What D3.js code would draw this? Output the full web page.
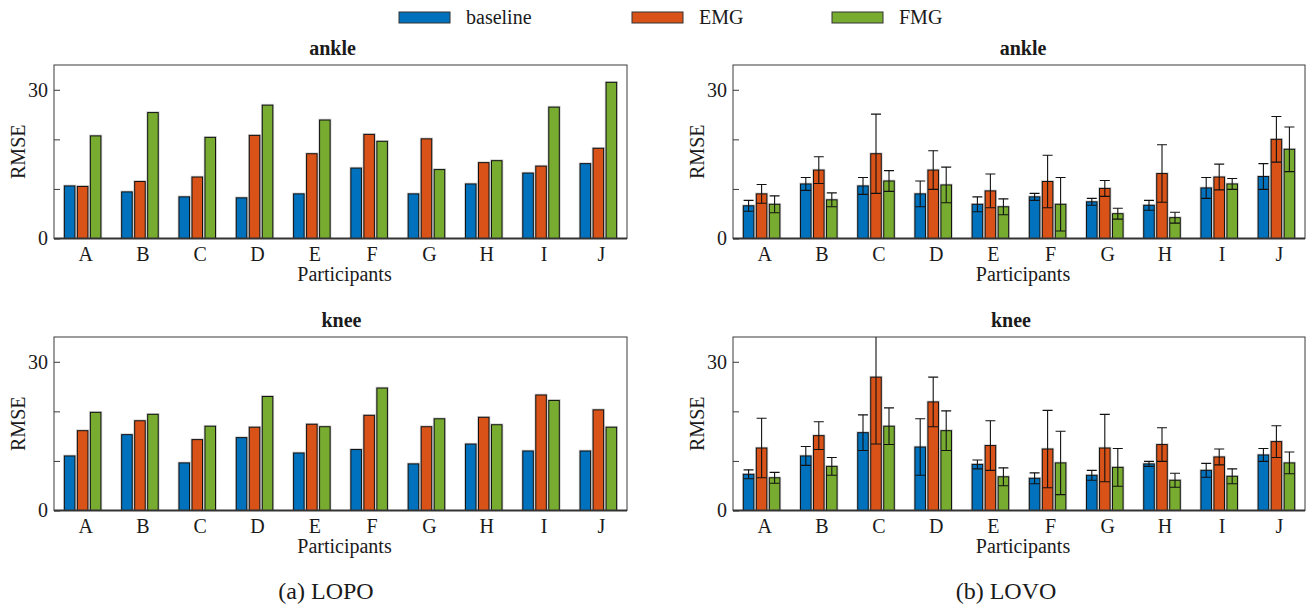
<!DOCTYPE html>
<html>

<head>
  <script src="https://d3js.org/d3.v7.min.js"></script>
  <style>
    body { margin: 0; background: #fff; }
    svg text { font-family: "Liberation Serif", Tinos, "Times New Roman", "DejaVu Serif", serif; fill: #1a1a1a; }
  </style>
</head>

<body>
  <svg id="chart" width="1310" height="612"></svg>
  <script>
    // data
    const participants = ["A", "B", "C", "D", "E", "F", "G", "H", "I", "J"];
    const seriesNames = ["baseline", "EMG", "FMG"];
    const seriesColors = ["#0072BD", "#D95319", "#77AC30"];
    const yTicks = [0, 10, 20, 30];
    const yTickLabels = ["0", "", "", "30"];

    // LOPO (no error bars): [baseline, EMG, FMG]
    const lopoAnkle = [
      [10.6, 9.4, 8.4, 8.2, 9.0, 14.2, 9.0, 11.0, 13.2, 15.1],
      [10.5, 11.5, 12.4, 20.8, 17.1, 21.0, 20.1, 15.3, 14.6, 18.2],
      [20.7, 25.4, 20.4, 26.9, 23.9, 19.6, 13.9, 15.7, 26.5, 31.5]
    ];
    const lopoKnee = [
      [11.0, 15.3, 9.6, 14.7, 11.6, 12.3, 9.4, 13.4, 12.0, 12.0],
      [16.1, 18.1, 14.3, 16.8, 17.4, 19.2, 16.9, 18.8, 23.3, 20.3],
      [19.8, 19.4, 17.0, 23.0, 16.9, 24.7, 18.5, 17.3, 22.2, 16.8]
    ];

    // LOVO means and std
    const lovoAnkle = [
      [6.6, 11.0, 10.6, 9.0, 6.9, 8.4, 7.4, 6.7, 10.2, 12.5],
      [9.0, 13.8, 17.1, 13.8, 9.6, 11.5, 10.1, 13.1, 12.4, 20.0],
      [6.9, 7.8, 11.6, 10.8, 6.4, 6.9, 5.0, 4.2, 11.0, 18.0]
    ];
    const lovoAnkleErr = [
      [1.1, 1.3, 1.7, 2.6, 1.5, 0.7, 0.7, 1.0, 2.1, 2.6],
      [1.9, 2.7, 8.0, 3.9, 3.4, 5.3, 1.6, 5.8, 2.6, 4.6],
      [1.7, 1.4, 2.1, 3.6, 1.6, 5.4, 1.1, 1.1, 1.1, 4.5]
    ];
    const lovoKnee = [
      [7.3, 11.0, 15.7, 12.8, 9.3, 6.5, 7.1, 9.4, 8.1, 11.2],
      [12.6, 15.1, 26.9, 21.9, 13.1, 12.4, 12.6, 13.3, 10.8, 13.9],
      [6.6, 8.9, 17.0, 16.1, 6.8, 9.6, 8.7, 6.1, 6.9, 9.6]
    ];
    const lovoKneeErr = [
      [0.9, 1.9, 3.6, 5.7, 0.9, 1.1, 1.0, 0.5, 1.4, 1.3],
      [6.0, 2.8, 13.5, 5.0, 5.0, 7.8, 6.8, 3.4, 1.6, 3.2],
      [1.1, 1.8, 3.7, 4.0, 1.8, 6.4, 3.8, 1.4, 1.5, 2.2]
    ];

    const svg = d3.select('svg#chart');
    const fontSize = 20;
    const serif = '"Liberation Serif", Tinos, "Times New Roman", "DejaVu Serif", serif';

    function drawPanel(id, left, top, width, height, title, titleShift, values, errors) {
      const g = svg.append('g').attr('transform', `translate(${left},${top})`);
      const xScale = d3.scaleBand().domain(participants).range([0, width]).padding(0);
      const inner = d3.scaleBand().domain(seriesNames).range([0, 39]).paddingInner(0.19).paddingOuter(0.095);
      const yScale = d3.scaleLinear().domain([0, 35]).range([height, 0]);

      g.append('clipPath').attr('id', 'clip' + id)
        .append('rect').attr('width', width).attr('height', height);

      const rows = [];
      participants.forEach((p, i) => {
        seriesNames.forEach((s, k) => {
          rows.push({ p: p, s: s, k: k, v: values[k][i], e: errors ? errors[k][i] : null });
        });
      });

      const plot = g.append('g').attr('clip-path', `url(#clip${id})`);
      const groupX = d => xScale(d.p) + xScale.bandwidth() / 2 - 19.5 + inner(d.s);

      // soft halo under bars
      plot.selectAll('rect.halo').data(rows).join('rect')
        .attr('class', 'halo')
        .attr('x', groupX)
        .attr('y', d => yScale(d.v))
        .attr('width', inner.bandwidth())
        .attr('height', d => height - yScale(d.v))
        .attr('fill', 'none')
        .attr('stroke', '#999')
        .attr('stroke-opacity', 0.5)
        .attr('stroke-width', 2.6);

      plot.selectAll('rect.bar').data(rows).join('rect')
        .attr('class', 'bar')
        .attr('x', groupX)
        .attr('y', d => yScale(d.v))
        .attr('width', inner.bandwidth())
        .attr('height', d => height - yScale(d.v))
        .attr('fill', d => seriesColors[d.k])
        .attr('stroke', '#111')
        .attr('stroke-width', 1);

      if (errors) {
        const cx = d => groupX(d) + inner.bandwidth() / 2;
        const capW = 5;
        const eb = plot.selectAll('g.err').data(rows).join('g').attr('class', 'err')
          .attr('stroke', '#111').attr('stroke-width', 1.1);
        eb.append('line')
          .attr('x1', cx).attr('x2', cx)
          .attr('y1', d => yScale(d.v - d.e)).attr('y2', d => yScale(d.v + d.e));
        eb.append('line')
          .attr('x1', d => cx(d) - capW).attr('x2', d => cx(d) + capW)
          .attr('y1', d => yScale(d.v + d.e)).attr('y2', d => yScale(d.v + d.e));
        eb.append('line')
          .attr('x1', d => cx(d) - capW).attr('x2', d => cx(d) + capW)
          .attr('y1', d => yScale(d.v - d.e)).attr('y2', d => yScale(d.v - d.e));
      }

      // box
      g.append('rect').attr('width', width).attr('height', height)
        .attr('fill', 'none').attr('stroke', '#3a3a3a').attr('stroke-width', 1);
      g.append('line').attr('x1', 0).attr('x2', width).attr('y1', height).attr('y2', height)
        .attr('stroke', '#333').attr('stroke-width', 2);

      // y axis, inward ticks
      const leftAxis = d3.axisLeft(yScale).tickValues(yTicks)
        .tickSize(-6).tickPadding(6)
        .tickFormat((d, i) => yTickLabels[i]);
      const ya = g.append('g').call(leftAxis).attr('font-family', serif).attr('font-size', fontSize);
      ya.select('.domain').remove();
      ya.selectAll('.tick line').attr('stroke', '#3a3a3a');
      ya.selectAll('.tick text').attr('fill', '#1a1a1a');

      // x axis labels only
      const bottomAxis = d3.axisBottom(xScale).tickSize(0).tickPadding(8);
      const xa = g.append('g').attr('transform', `translate(0,${height})`).call(bottomAxis)
        .attr('font-family', serif).attr('font-size', fontSize);
      xa.select('.domain').remove();
      xa.selectAll('.tick text').attr('fill', '#1a1a1a').attr('dx', 3);

      g.append('text')
        .attr('x', width / 2 + titleShift).attr('y', -10)
        .style('text-anchor', 'middle').style('font-weight', 'bold')
        .style('font-size', fontSize + 'px')
        .text(title);

      g.append('text')
        .attr('transform', 'rotate(-90)')
        .attr('x', -height / 2).attr('y', -29)
        .style('text-anchor', 'middle').style('font-size', fontSize + 'px')
        .text('RMSE');

      g.append('text')
        .attr('x', width / 2 + 4).attr('y', height + 42)
        .style('text-anchor', 'middle').style('font-size', fontSize + 'px')
        .text('Participants');
    }

    const panelH = 173.5;
    drawPanel('a1', 54, 65, 573, panelH, 'ankle', -8, lopoAnkle, null);
    drawPanel('a2', 54, 337, 573, panelH, 'knee', 1, lopoKnee, null);
    drawPanel('b1', 733, 65, 572, panelH, 'ankle', 4, lovoAnkle, lovoAnkleErr);
    drawPanel('b2', 733, 337, 572, panelH, 'knee', -8, lovoKnee, lovoKneeErr);

    // legend
    const legendX = [399, 632, 832];
    const legend = svg.append('g');
    legend.selectAll('g.item').data(seriesNames).join('g')
      .attr('class', 'item')
      .attr('transform', (d, i) => `translate(${legendX[i]},12)`)
      .each(function (d, i) {
        const item = d3.select(this);
        item.append('rect').attr('width', 51).attr('height', 11)
          .attr('fill', seriesColors[i]).attr('stroke', '#333').attr('stroke-width', 1);
        item.append('text').attr('x', 67).attr('y', 11.5)
          .style('font-size', fontSize + 'px').text(d);
      });

    // sub-captions
    svg.append('text').attr('x', 326).attr('y', 599)
      .style('text-anchor', 'middle').style('font-size', '24px').text('(a) LOPO');
    svg.append('text').attr('x', 1006).attr('y', 599)
      .style('text-anchor', 'middle').style('font-size', '24px').text('(b) LOVO');
  </script>
</body>

</html>
